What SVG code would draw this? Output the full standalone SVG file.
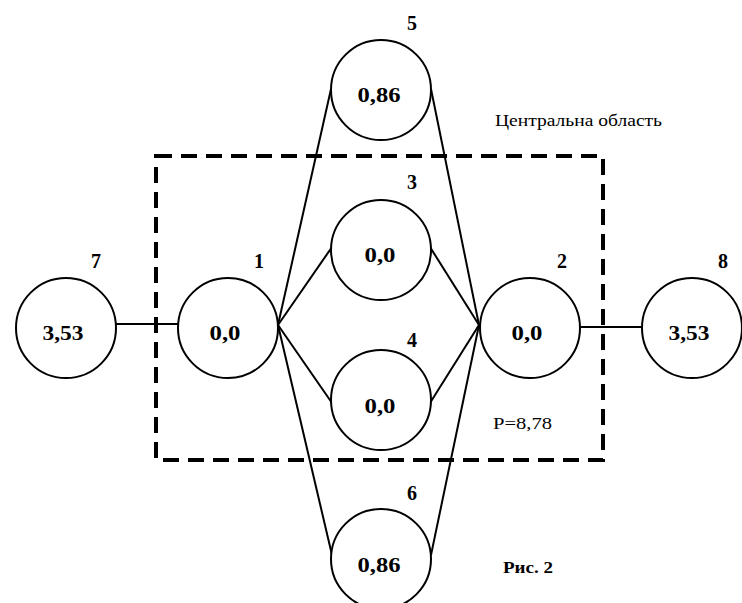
<svg xmlns="http://www.w3.org/2000/svg" width="742" height="603" viewBox="0 0 742 603">
<style>
.n{fill:#fff;stroke:#000;stroke-width:2}
.e{stroke:#000;stroke-width:2;fill:none}
.v{font-family:"Liberation Serif","Times New Roman",serif;font-weight:bold;font-size:21px;text-anchor:middle}
.l{font-family:"Liberation Serif","Times New Roman",serif;font-weight:bold;font-size:20px;text-anchor:middle}
.t{font-family:"Liberation Serif","Times New Roman",serif;font-size:16px}
</style>
<rect width="742" height="603" fill="#fff"/>
<rect x="156" y="156" width="447" height="304" fill="none" stroke="#000" stroke-width="4" stroke-dasharray="16 9"/>
<g id="edges">
<line class="e" x1="116" y1="324" x2="178" y2="324"/>
<line class="e" x1="580" y1="327" x2="642" y2="327"/>
<line class="e" x1="278" y1="325" x2="331" y2="89"/>
<line class="e" x1="278" y1="325" x2="332" y2="247"/>
<line class="e" x1="278" y1="325" x2="332" y2="403"/>
<line class="e" x1="278" y1="325" x2="332" y2="555"/>
<line class="e" x1="431" y1="89" x2="479" y2="325"/>
<line class="e" x1="430" y1="247" x2="479" y2="325"/>
<line class="e" x1="430" y1="403" x2="479" y2="325"/>
<line class="e" x1="431" y1="555" x2="479" y2="325"/>
</g>
<g id="node5"><circle class="n" cx="381" cy="90" r="50"/><text class="v" x="379" y="102" textLength="43" lengthAdjust="spacingAndGlyphs">0,86</text><text class="l" x="412" y="30">5</text></g>
<g id="node3"><circle class="n" cx="381" cy="250" r="50"/><text class="v" x="380" y="262" textLength="31" lengthAdjust="spacingAndGlyphs">0,0</text><text class="l" x="412" y="189">3</text></g>
<g id="node4"><circle class="n" cx="381" cy="400" r="50"/><text class="v" x="380" y="413" textLength="31" lengthAdjust="spacingAndGlyphs">0,0</text><text class="l" x="412" y="347">4</text></g>
<g id="node6"><circle class="n" cx="381" cy="559" r="50"/><text class="v" x="379" y="572" textLength="43" lengthAdjust="spacingAndGlyphs">0,86</text><text class="l" x="412" y="500">6</text></g>
<g id="node1"><circle class="n" cx="228" cy="328" r="50"/><text class="v" x="225" y="340" textLength="31" lengthAdjust="spacingAndGlyphs">0,0</text><text class="l" x="259" y="268">1</text></g>
<g id="node2"><circle class="n" cx="530" cy="328" r="50"/><text class="v" x="527" y="340" textLength="31" lengthAdjust="spacingAndGlyphs">0,0</text><text class="l" x="562" y="268">2</text></g>
<g id="node7"><circle class="n" cx="66" cy="328" r="50"/><text class="v" x="63" y="340" textLength="41" lengthAdjust="spacingAndGlyphs">3,53</text><text class="l" x="96" y="268">7</text></g>
<g id="node8"><circle class="n" cx="692" cy="328" r="50"/><text class="v" x="689" y="340" textLength="41" lengthAdjust="spacingAndGlyphs">3,53</text><text class="l" x="723" y="268">8</text></g>
<text class="t" x="495" y="126" textLength="167" lengthAdjust="spacingAndGlyphs">Центральна область</text>
<text class="t" x="493" y="429" textLength="59" lengthAdjust="spacingAndGlyphs">P=8,78</text>
<text class="t" x="503" y="573" font-weight="bold" textLength="50" lengthAdjust="spacingAndGlyphs">Рис. 2</text>
</svg>
